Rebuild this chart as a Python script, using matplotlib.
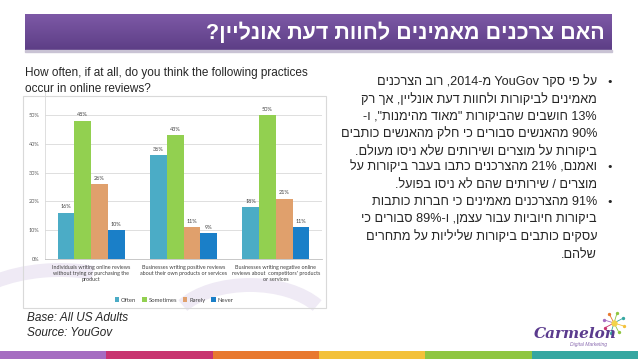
import numpy as np
import matplotlib
matplotlib.use('Agg')
import matplotlib.pyplot as plt
from matplotlib.patches import Rectangle, Arc

HEB = ['Liberation Sans', 'DejaVu Sans']
SMALL = ['Lato', 'DejaVu Sans']

# chart data (percent)
categories = [
    'Individuals writing online reviews\nwithout trying or purchasing the\nproduct',
    'Businesses writing positive reviews\nabout their own products or services',
    "Businesses writing negative online\nreviews about  competitors' products\nor services",
]
series = ['Often', 'Sometimes', 'Rarely', 'Never']
often = [16, 36, 18]
sometimes = [48, 43, 50]
rarely = [26, 11, 21]
never = [10, 9, 11]
colors = ['#4bacc6', '#92d050', '#e0a06c', '#1a7fc8']
yticks = [0, 10, 20, 30, 40, 50]

title = 'האם צרכנים מאמינים לחוות דעת אונליין?'
chart_title = ['How often, if at all, do you think the following practices',
               'occur in online reviews?']
bullets = [
    ['על פי סקר YouGov מ-2014, רוב הצרכנים',
     'מאמינים לביקורות ולחוות דעת אונליין, אך רק',
     '13% חושבים שהביקורות "מאוד מהימנות", ו-',
     '90% מהאנשים סבורים כי חלק מהאנשים כותבים',
     'ביקורות על מוצרים ושירותים שלא ניסו מעולם.'],
    ['ואמנם, 21% מהצרכנים כתבו בעבר ביקורות על',
     'מוצרים / שירותים שהם לא ניסו בפועל.'],
    ['91% מהצרכנים מאמינים כי חברות כותבות',
     'ביקורות חיוביות עבור עצמן, ו-89% סבורים כי',
     'עסקים כותבים ביקורות שליליות על מתחרים',
     'שלהם.'],
]
stripe_colors = ['#a56cc1', '#c8346f', '#e8792f', '#f3c13a', '#8fc641', '#35a7a1']


def visual(s):
    # crude bidi: keep latin/number runs LTR, reverse everything else
    segs = []
    cur = ''
    for ch in s:
        if ch.isascii() and (ch.isalnum() or ch == '%'):
            cur += ch
        else:
            if cur:
                segs.append(cur)
                cur = ''
            segs.append(ch)
    if cur:
        segs.append(cur)
    return ''.join(segs[::-1])


W, H = 638, 359
fig = plt.figure(figsize=(W / 100, H / 100), dpi=100)
bg = fig.add_axes([0, 0, 1, 1])
bg.set_xlim(0, W)
bg.set_ylim(H, 0)
bg.axis('off')

# faint background swirls
for cx, cy, w, h, t1, t2 in [(60, 330, 220, 120, 180, 300), (250, 330, 160, 90, 200, 340)]:
    bg.add_patch(Arc((cx, cy), w, h, theta1=t1, theta2=t2, color='#efeaf5', lw=10, zorder=0))

# title bar with vertical gradient
grad = np.linspace(0, 1, 64).reshape(-1, 1)
cmap = matplotlib.colors.LinearSegmentedColormap.from_list('bar', ['#7d59a6', '#5d3e86'])
bg.imshow(grad, extent=[25, 612, 50, 14], cmap=cmap, aspect='auto', zorder=1)
bg.add_patch(Rectangle((25, 50), 587, 1.5, color='#c9c3d4', zorder=1))
bg.text(605, 33, visual(title), ha='right', va='center', color='white',
        fontsize=15.5, fontweight='bold', family=HEB, zorder=2)

# bottom colour stripe
seg = W / len(stripe_colors)
for i, c in enumerate(stripe_colors):
    bg.add_patch(Rectangle((i * seg, 351), seg + 0.5, 8, color=c, lw=0, zorder=1))

# chart title and source
for i, line in enumerate(chart_title):
    bg.text(25, 73 + 16 * i, line, ha='left', va='center', fontsize=8.5,
            color='#262626', family=HEB)
bg.text(27, 318, 'Base: All US Adults', ha='left', va='center', fontsize=8.5,
        style='italic', color='#262626', family=HEB)
bg.text(27, 333, 'Source: YouGov', ha='left', va='center', fontsize=8.5,
        style='italic', color='#262626', family=HEB)

# chart frame
bg.add_patch(Rectangle((23, 96), 303, 212, fill=False, ec='#d9d9d9', lw=0.8, zorder=1))

# hebrew bullets
rows = [[82, 99.5, 117, 134, 151.5], [167, 184.5], [202, 219.5, 237, 254.5]]
for lines, ys in zip(bullets, rows):
    bg.text(610, ys[0], '•', ha='center', va='center', fontsize=8, color='#262626')
    for line, y in zip(lines, ys):
        bg.text(597, y, visual(line), ha='right', va='center', fontsize=9.05,
                color='#262626', family=HEB)

# logo
bg.text(575, 334, 'Carmelon', ha='center', va='center', fontsize=11, fontweight='bold',
        style='italic', color='#5b3b8e', family=['DejaVu Serif'])
bg.text(588, 344.5, 'Digital Marketing', ha='center', va='center', fontsize=3.6,
        style='italic', color='#8a6bb0', family=HEB)
ray_cols = ['#f3c13a', '#8fc641', '#35a7a1', '#c8346f', '#a56cc1', '#e8792f', '#8fc641', '#35a7a1']
x0, y0 = 614, 323
for ang, c in zip(np.linspace(0, 2 * np.pi, 9)[:-1] + 0.3, ray_cols):
    bg.plot([x0 + 2.5 * np.cos(ang), x0 + 9 * np.cos(ang)],
            [y0 + 2.5 * np.sin(ang), y0 + 9 * np.sin(ang)], color=c, lw=0.6, zorder=2)
    bg.plot(x0 + 10.5 * np.cos(ang), y0 + 10.5 * np.sin(ang), 'o', ms=1.4, color=c, zorder=2)
bg.plot(x0, y0, 'o', ms=3.5, color='#f3d34a', zorder=3)

# bar chart
ax_l, ax_r, ax_b, ax_t = 45, 322, 259, 92
ax = fig.add_axes([ax_l / W, 1 - ax_b / H, (ax_r - ax_l) / W, (ax_b - ax_t) / H])
ax.patch.set_alpha(0)
ymax = 50 * (ax_b - ax_t) / (259 - 115)
ax.set_ylim(0, ymax)
ax.set_xlim(-0.5, 2.5)
x = np.arange(len(categories))
bw = 0.181
for i, (name, vals) in enumerate(zip(series, [often, sometimes, rarely, never])):
    pos = x + (i - 1.5) * bw
    ax.bar(pos, vals, bw, color=colors[i], label=name, zorder=3)
    for p, v in zip(pos, vals):
        ax.text(p, v + 1.2, '%d%%' % v, ha='center', va='bottom', fontsize=4.0,
                color='#404040', family=SMALL)

ax.set_yticks(yticks)
ax.set_yticklabels(['%d%%' % t for t in yticks], fontsize=4.0, color='#595959', family=SMALL)
ax.yaxis.grid(True, color='#d9d9d9', lw=0.6, zorder=0)
ax.set_xticks(x)
ax.set_xticklabels(categories, fontsize=3.85, color='#404040', linespacing=1.35, family=SMALL)
ax.tick_params(axis='both', length=0, pad=4)
for s in ['top', 'right']:
    ax.spines[s].set_visible(False)
ax.spines['left'].set_color('#d9d9d9')
ax.spines['bottom'].set_color('#bfbfbf')
ax.spines['left'].set_linewidth(0.6)
ax.spines['bottom'].set_linewidth(0.6)

fig.legend(loc='center', bbox_to_anchor=(174 / W, 1 - 300 / H), ncol=4, frameon=False,
           prop={'size': 4.2, 'family': SMALL}, handlelength=0.8,
           handleheight=0.8, handletextpad=0.3, columnspacing=1.0, labelcolor='#404040')

fig.savefig('out.png', dpi=100)
